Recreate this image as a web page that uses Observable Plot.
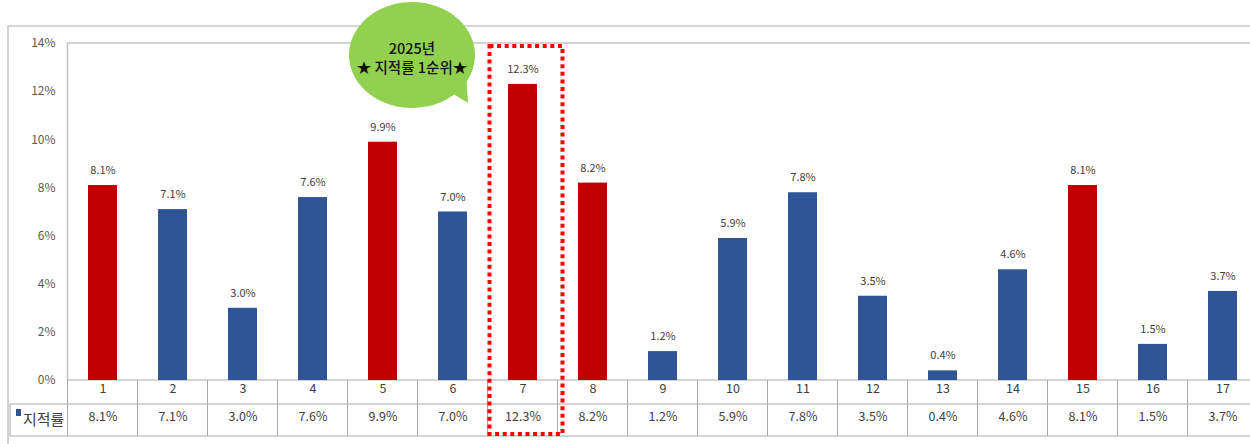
<!DOCTYPE html>
<html><head><meta charset="utf-8">
<script src="https://cdn.jsdelivr.net/npm/d3@7"></script>
<script src="https://cdn.jsdelivr.net/npm/@observablehq/plot@0.6"></script>
<style>
body{margin:0;background:#fff;}
#chart svg{display:block;}
</style>
</head><body><div id="chart"></div>
<script>
const categories = ["1","2","3","4","5","6","7","8","9","10","11","12","13","14","15","16","17"];
const values = [8.1, 7.1, 3.0, 7.6, 9.9, 7.0, 12.3, 8.2, 1.2, 5.9, 7.8, 3.5, 0.4, 4.6, 8.1, 1.5, 3.7];
const highlighted = ["1","5","7","8","15"];
const yTicks = [0, 2, 4, 6, 8, 10, 12, 14];
const seriesName = "지적률";
const calloutLines = ["2025년", "★ 지적률 1순위★"];
const focusCategory = "7";

const RED = "#C00000", BLUE = "#2F5597", TXT = "#404040";
const FONT = "'Noto Sans CJK KR', 'Noto Sans', sans-serif";
const pct = v => v.toFixed(1) + "%";

const data = categories.map((c, i) => ({category: c, value: values[i], group: highlighted.includes(c) ? "top" : "normal"}));

const plot = Plot.plot({
  width: 1250, height: 444,
  marginTop: 43, marginBottom: 64, marginLeft: 67, marginRight: 0,
  style: {fontFamily: FONT, background: "transparent", overflow: "visible"},
  x: {domain: categories, range: [67, 1257], paddingInner: 0.586, paddingOuter: 0.293, axis: null},
  y: {domain: [0, 14], range: [380, 43], axis: null},
  color: {domain: ["top", "normal"], range: [RED, BLUE]},
  marks: [
    Plot.axisY({ticks: yTicks, tickFormat: d => d + "%", tickSize: 0, tickPadding: 12, fontSize: 12, fill: "#595959", label: null}),
    Plot.barY(data, {x: "category", y: "value", fill: "group"}),
    Plot.text(data, {x: "category", y: "value", text: d => pct(d.value), dy: -15, fill: TXT, fontSize: 11}),
    Plot.text(data, {x: "category", text: "category", frameAnchor: "bottom", dy: 12, fill: TXT, fontSize: 12.5}),
    Plot.text(data, {x: "category", text: d => pct(d.value), frameAnchor: "bottom", dy: 40, fill: TXT, fontSize: 12.5})
  ]
});
document.getElementById("chart").appendChild(plot);

const xs = plot.scale("x"), ys = plot.scale("y");
const step = xs.step, bw = xs.bandwidth;
const edge = c => xs.apply(c) - (step - bw) / 2;
const left = edge(categories[0]);
const right = edge(categories[categories.length - 1]) + step;
const y0 = ys.apply(0), yTop = ys.apply(14);
const row1 = y0 + 24, row2 = y0 + 56;
const tableLeft = 10;

const svg = d3.select(plot);
const back = svg.insert("g", ":first-child");
// outer chart frame
back.append("path").attr("d", `M8,444V26H1250`).attr("fill", "none").attr("stroke", "#c8c8c8").attr("stroke-width", 1.6);
// plot area frame
back.append("path").attr("d", `M${right},${yTop}H${left}V${y0}`).attr("fill", "none").attr("stroke", "#c4c4c4").attr("stroke-width", 1.6);
// table lines
const tl = back.append("g").attr("stroke", "#a8a8a8").attr("stroke-width", 1).attr("fill", "none");
tl.append("path").attr("d", `M${left},${y0}H${right}`);
tl.append("path").attr("d", `M${tableLeft},${row1}H${right}`);
tl.append("path").attr("d", `M${tableLeft},${row2}H${right}`);
tl.append("path").attr("d", `M${tableLeft},${row1}V${row2}`);
for (let i = 0; i <= categories.length; i++) {
  const x = left + i * step;
  tl.append("path").attr("d", `M${x},${y0}V${row2}`);
}
// legend cell
const fg = svg.append("g");
fg.append("rect").attr("x", 16).attr("y", row1 + 5).attr("width", 5).attr("height", 7).attr("fill", BLUE);
fg.append("text").attr("x", 23).attr("y", (row1 + row2) / 2).attr("dy", "0.36em").attr("text-anchor", "start")
  .attr("font-size", 15).attr("font-family", FONT).attr("fill", TXT).text(seriesName);

// red dotted focus box
const fx = edge(focusCategory);
fg.append("rect").attr("x", fx + 2).attr("y", yTop + 3).attr("width", step + 3).attr("height", row2 - yTop - 5)
  .attr("fill", "none").attr("stroke", "#FF0000").attr("stroke-width", 4).attr("stroke-dasharray", "4 3.6");

// callout bubble
const cx = 412, cy = 55, rx = 63, ry = 53;
const pt = a => [cx + rx * Math.cos(a * Math.PI / 180), cy + ry * Math.sin(a * Math.PI / 180)];
const [ax, ay] = pt(30), [bx, by] = pt(48);
fg.append("path")
  .attr("d", `M${ax},${ay} A${rx},${ry} 0 1 0 ${bx},${by} L${cx + 56},${cy + 48} Z`)
  .attr("fill", "#92D050");
const ct = fg.append("g").attr("text-anchor", "middle").attr("font-size", 14.5).attr("font-weight", 500)
  .attr("font-family", FONT).attr("fill", "#111");
ct.append("text").attr("x", cx).attr("y", 49).attr("dy", "0.36em").text(calloutLines[0]);
ct.append("text").attr("x", cx).attr("y", 68).attr("dy", "0.36em").text(calloutLines[1]);
</script>
</body></html>
